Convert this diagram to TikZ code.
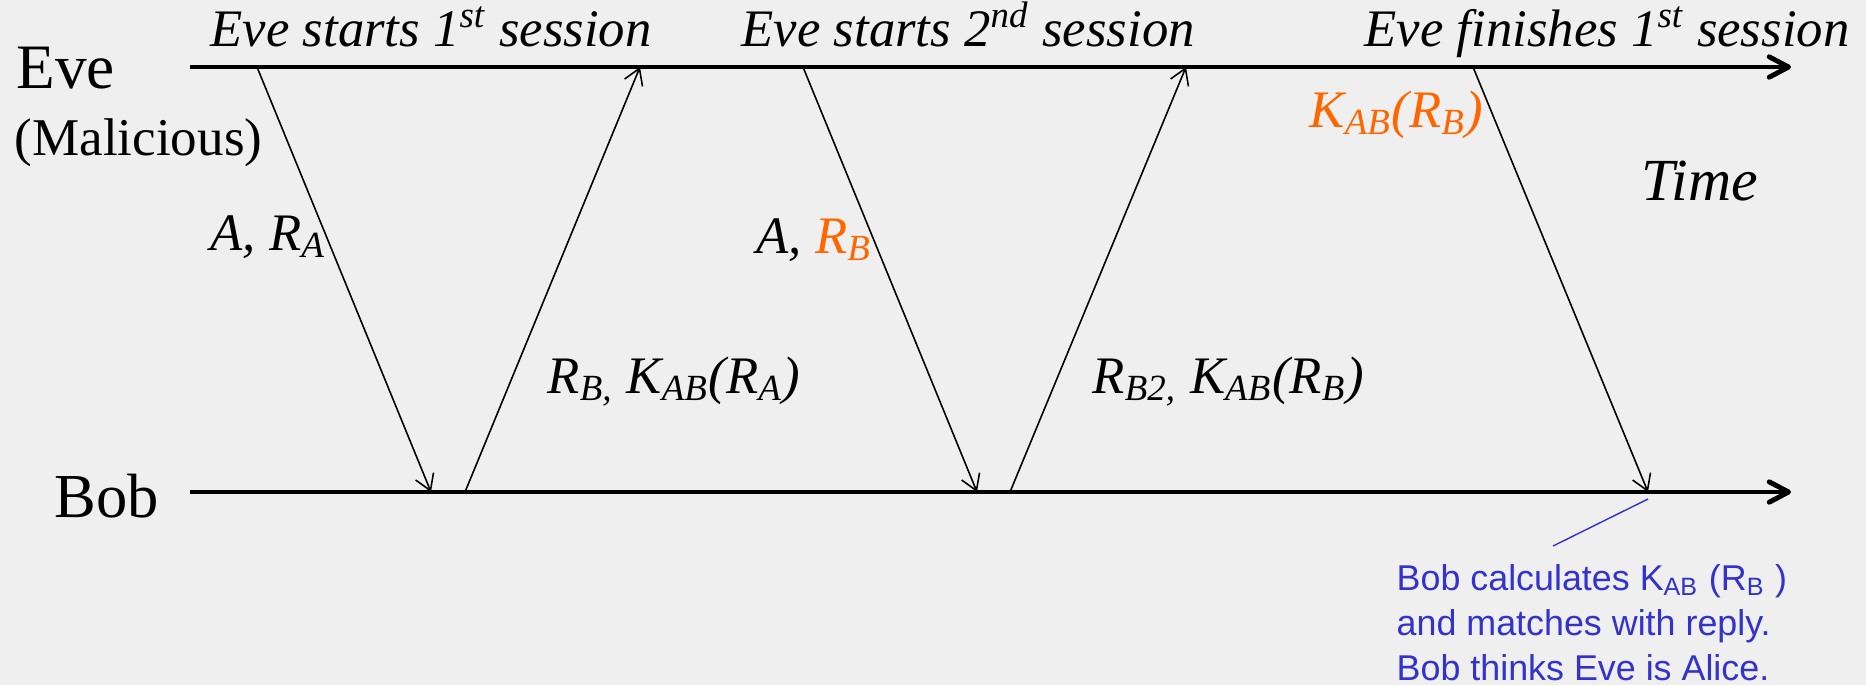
\documentclass[tikz,border=0pt]{standalone}
\usepackage{fontspec}
\setmainfont{Liberation Serif}
\newfontfamily\arialfont{Liberation Sans}
\usetikzlibrary{arrows.meta}
\definecolor{bgcol}{HTML}{EFEFEF}
\definecolor{orng}{HTML}{FF6600}
\definecolor{blu}{HTML}{3333CC}
\newcommand\sbs[1]{\textsubscript{#1}}
\newcommand\sps[1]{\textsuperscript{#1}}
\begin{document}
\begin{tikzpicture}[x=0.1mm,y=-0.1mm,
  timeline/.style={line width=1.4pt,-{Straight Barb[length=5.5pt,width=5.8pt,round]}},
  msg/.style={line width=0.45pt,-{Straight Barb[length=4.4pt,width=5.5pt]}},
  lbl/.style={inner sep=0pt,anchor=base west,font=\fontsize{15}{18}\selectfont\itshape},
  party/.style={inner sep=0pt,anchor=base west},
  note/.style={inner sep=0pt,anchor=base west,align=left,text=blu,font=\arialfont\fontsize{10.2}{12.8}\selectfont}]
\fill[bgcol] (0,0) rectangle (1866,685);
\useasboundingbox (0,0) rectangle (1866,685);
% time lines
\coordinate (eveS) at (190,67);
\coordinate (eveE) at (1791,67);
\coordinate (bobS) at (190,492);
\coordinate (bobE) at (1791,492);
\draw[timeline] (eveS) -- (eveE);
\draw[timeline] (bobS) -- (bobE);
% message end points
\coordinate (e1) at (257,67);
\coordinate (b1) at (431,492);
\coordinate (b2) at (465,492);
\coordinate (e2) at (640,67);
\coordinate (e3) at (803,67);
\coordinate (b3) at (977,492);
\coordinate (b4) at (1010,492);
\coordinate (e4) at (1186,67);
\coordinate (e5) at (1473,67);
\coordinate (b5) at (1648,492);
\draw[msg] (e1) -- (b1);
\draw[msg] (b2) -- (e2);
\draw[msg] (e3) -- (b3);
\draw[msg] (b4) -- (e4);
\draw[msg] (e5) -- (b5);
% parties
\node[party,font=\fontsize{18}{20}\selectfont] (eve) at (16,88) {Eve};
\node[party,font=\fontsize{15.1}{18}\selectfont] (mal) at (14,155) {(Malicious)};
\node[party,font=\fontsize{17.8}{20}\selectfont] (bob) at (54,517) {Bob};
% top labels
\node[lbl] (s1) at (210,46) {Eve starts 1\sps{st} session};
\node[lbl] (s2) at (741,46) {Eve starts 2\sps{nd} session};
\node[lbl] (s3) at (1364,46) {Eve finishes 1\sps{st} session};
% message labels
\node[lbl] (m1) at (210,250) {A, R\sbs{A}};
\node[lbl] (m2) at (547,393) {R\sbs{B,} K\sbs{AB}(R\sbs{A})};
\node[lbl] (m3) at (756,253) {A, \textcolor{orng}{R\sbs{B}}};
\node[lbl] (m4) at (1092,393) {R\sbs{B2,} K\sbs{AB}(R\sbs{B})};
\node[lbl,text=orng] (m5) at (1309,127) {K\sbs{AB}(R\sbs{B})};
\node[lbl,font=\fontsize{17}{20}\selectfont\itshape] (time) at (1641,200) {Time};
% note
\coordinate (nA) at (1648,499);
\coordinate (nB) at (1553,546);
\draw[blu,line width=0.4pt] (nA) -- (nB);
\node[note] (nt) at (1396,680) {Bob calculates K\sbs{AB} (R\sbs{B} )\\and matches with reply.\\Bob thinks Eve is Alice.};
\end{tikzpicture}
\end{document}
